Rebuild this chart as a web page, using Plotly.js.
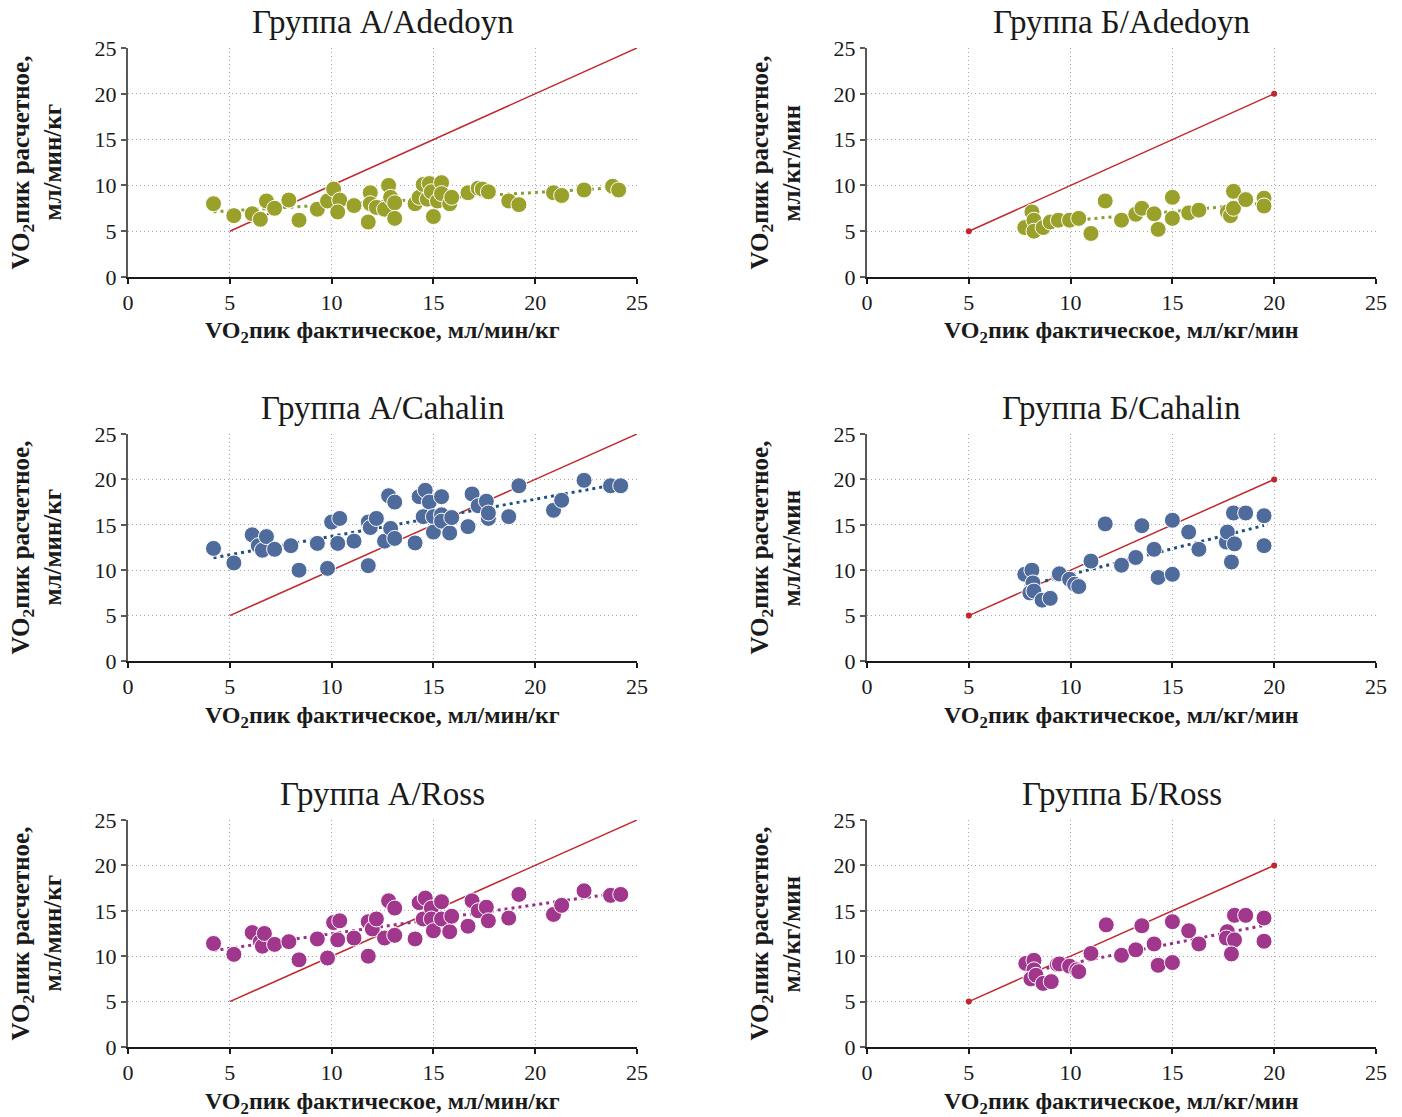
<!DOCTYPE html>
<html>
<head>
<meta charset="utf-8">
<script src="https://cdn.plot.ly/plotly-3.0.1.min.js"></script>
<style>html,body{margin:0;padding:0;background:#fff;}#chart{width:1402px;height:1117px;}</style>
</head>
<body>
<div id="chart"></div>
<script>
// ---------- DATA ----------
const tickVals = [0, 5, 10, 15, 20, 25];
const identA = [5, 25];
const identB = [5, 20];

// Группа А / Adedoyn
const aAdX = [4.2,5.2,6.1,6.5,6.8,7.2,7.9,8.4,9.3,9.8,10.1,10.4,10.3,11.1,11.8,11.9,11.9,12.2,12.6,12.8,12.9,13.1,13.1,14.1,14.3,14.5,14.8,14.7,14.9,15.2,15.0,15.4,15.4,15.8,15.9,16.7,17.2,17.4,17.7,18.7,19.2,20.9,21.3,22.4,23.8,24.1];
const aAdY = [8.0,6.7,6.9,6.3,8.3,7.5,8.4,6.2,7.4,8.3,9.6,8.4,7.1,7.8,6.0,9.2,8.0,7.6,7.4,10.0,8.7,8.1,6.4,8.0,8.7,10.1,10.2,8.5,9.3,8.3,6.6,10.3,9.1,8.0,8.7,9.2,9.7,9.6,9.3,8.3,7.9,9.2,8.9,9.5,9.9,9.5];

// Группа А / Cahalin
const aCaX = [4.2,5.2,6.1,6.4,6.6,6.8,7.2,8.0,8.4,9.3,9.8,10.0,10.4,10.3,11.1,11.8,11.8,11.9,12.2,12.6,12.8,13.1,12.9,13.1,14.1,14.3,14.6,14.8,14.5,15.0,15.0,15.4,15.4,15.4,15.8,15.9,16.7,16.9,17.2,17.6,17.7,17.7,18.7,19.2,20.9,21.3,22.4,23.7,24.2];
const aCaY = [12.4,10.8,13.9,12.7,12.2,13.7,12.3,12.7,10.0,12.95,10.2,15.3,15.7,12.95,13.2,10.5,15.3,14.7,15.7,13.2,18.2,17.5,14.6,13.5,13.0,18.1,18.8,17.5,15.9,15.9,14.2,18.1,16.1,15.4,14.1,15.8,14.8,18.4,17.1,17.6,15.7,16.3,15.9,19.3,16.6,17.7,19.9,19.3,19.3];

// Группа А / Ross
const aRoX = [4.2,5.2,6.1,6.5,6.6,6.7,7.2,7.9,8.4,9.3,9.8,10.1,10.4,10.3,11.1,11.8,11.8,12.0,12.2,12.6,13.1,12.8,13.1,14.1,14.3,14.6,14.5,14.9,14.9,15.0,15.4,15.4,15.8,15.9,16.7,16.9,17.2,17.6,17.7,18.7,19.2,20.9,21.3,22.4,23.7,24.2];
const aRoY = [11.4,10.2,12.6,11.6,11.1,12.5,11.3,11.6,9.6,11.9,9.8,13.7,13.9,11.8,12.0,10.0,13.8,13.0,14.1,12.0,12.3,16.1,15.3,11.9,15.9,16.4,14.1,15.3,14.1,12.8,16.0,14.1,12.7,14.4,13.3,16.1,15.0,15.4,13.9,14.2,16.8,14.6,15.6,17.2,16.7,16.8];

// Группа Б / Adedoyn
const bAdX = [7.75,8.1,8.2,8.2,8.65,9.0,9.4,9.95,10.4,11.0,11.7,12.5,13.2,13.5,14.1,14.3,15.0,15.0,15.8,16.3,17.7,17.85,18.0,18.0,18.6,19.5,19.5];
const bAdY = [5.4,7.1,6.2,5.0,5.4,6.0,6.2,6.2,6.4,4.75,8.3,6.2,6.85,7.5,6.9,5.2,8.7,6.4,7.0,7.3,7.1,6.7,7.5,9.35,8.45,8.6,7.75];

// Группа Б / Cahalin
const bCaX = [7.75,8.1,8.15,8.0,8.2,8.6,9.0,9.4,9.45,9.95,10.2,10.4,11.0,11.7,12.5,13.2,13.5,14.1,14.3,15.0,15.0,15.8,16.3,17.65,17.7,18.05,17.9,18.0,18.6,19.5,19.5];
const bCaY = [9.55,10.0,8.6,7.5,7.7,6.7,6.9,9.55,9.6,9.0,8.45,8.2,11.0,15.1,10.55,11.4,14.9,12.3,9.2,15.5,9.55,14.2,12.3,13.1,14.2,12.9,10.9,16.3,16.3,16.0,12.7];

// Группа Б / Ross
const bRoX = [7.8,8.2,8.2,8.05,8.3,8.65,9.05,9.35,9.45,9.95,10.3,10.4,11.0,11.75,12.5,13.2,13.5,14.1,14.3,15.0,15.0,15.8,16.3,17.7,17.65,18.05,17.9,18.05,18.6,19.5,19.5];
const bRoY = [9.2,9.55,8.5,7.5,7.9,7.0,7.2,9.1,9.15,8.9,8.5,8.3,10.3,13.45,10.1,10.7,13.35,11.35,9.0,13.8,9.3,12.8,11.35,12.7,12.0,11.8,10.25,14.5,14.5,14.2,11.65];

const titles = ['Группа А/Adedoyn','Группа Б/Adedoyn','Группа А/Cahalin','Группа Б/Cahalin','Группа А/Ross','Группа Б/Ross'];
const unitA = 'мл/мин/кг';
const unitB = 'мл/кг/мин';

// ---------- STYLE ----------
const W = 1402, H = 1117;
const FONT = '"Liberation Serif", "Times New Roman", serif';
const colXpx = [[128, 637], [867, 1376]];
const rowYpx = [[48, 277], [434, 661], [820, 1047]];
const titleYpx = [22, 408, 794];
const xTitleYpx = [332, 717, 1103];
const yTitleXpx = [[22, 52], [761, 791]];
const RED = '#c0282d';
const palette = {
  ad: {marker: '#9aa12b', trend: '#87a034'},
  ca: {marker: '#4e6b9c', trend: '#1d4f80'},
  ro: {marker: '#a0378c', trend: '#9a2f89'}
};

const panels = [
  {x: aAdX, y: aAdY, ident: identA, c: palette.ad, col: 0, row: 0, identMarkers: false},
  {x: bAdX, y: bAdY, ident: identB, c: palette.ad, col: 1, row: 0, identMarkers: true},
  {x: aCaX, y: aCaY, ident: identA, c: palette.ca, col: 0, row: 1, identMarkers: false},
  {x: bCaX, y: bCaY, ident: identB, c: palette.ca, col: 1, row: 1, identMarkers: true},
  {x: aRoX, y: aRoY, ident: identA, c: palette.ro, col: 0, row: 2, identMarkers: false},
  {x: bRoX, y: bRoY, ident: identB, c: palette.ro, col: 1, row: 2, identMarkers: true}
];

function linfit(xs, ys) {
  const n = xs.length;
  let sx = 0, sy = 0, sxx = 0, sxy = 0;
  for (let i = 0; i < n; i++) { sx += xs[i]; sy += ys[i]; sxx += xs[i]*xs[i]; sxy += xs[i]*ys[i]; }
  const b = (n*sxy - sx*sy) / (n*sxx - sx*sx);
  const a = (sy - b*sx) / n;
  const x0 = Math.min(...xs), x1 = Math.max(...xs);
  return {x: [x0, x1], y: [a + b*x0, a + b*x1]};
}
const px = v => v / W;
const py = v => 1 - v / H;

const traces = [];
const layout = {
  width: W, height: H,
  margin: {l: 0, r: 0, t: 0, b: 0},
  paper_bgcolor: '#ffffff', plot_bgcolor: '#ffffff',
  showlegend: false, hovermode: false,
  font: {family: FONT, color: '#1a1a1a', size: 22},
  annotations: []
};

panels.forEach((p, i) => {
  const k = i + 1;
  const xa = 'x' + (k === 1 ? '' : k), ya = 'y' + (k === 1 ? '' : k);
  const xKey = 'xaxis' + (k === 1 ? '' : k), yKey = 'yaxis' + (k === 1 ? '' : k);
  const cx = colXpx[p.col], ry = rowYpx[p.row];

  // identity line
  traces.push({
    x: p.ident, y: p.ident, xaxis: xa, yaxis: ya, type: 'scatter',
    mode: p.identMarkers ? 'lines+markers' : 'lines',
    line: {color: RED, width: 1.5},
    marker: {color: RED, size: 6},
    hoverinfo: 'skip'
  });
  // trend line
  const f = linfit(p.x, p.y);
  traces.push({
    x: f.x, y: f.y, xaxis: xa, yaxis: ya, type: 'scatter', mode: 'lines',
    line: {color: p.c.trend, width: 3, dash: '3px,4px'}, hoverinfo: 'skip'
  });
  // points
  traces.push({
    x: p.x, y: p.y, xaxis: xa, yaxis: ya, type: 'scatter', mode: 'markers',
    marker: {color: p.c.marker, size: 16, line: {color: '#ffffff', width: 1}}
  });

  layout[xKey] = {
    domain: [px(cx[0]), px(cx[1])], anchor: ya,
    range: [0, 25], tickvals: tickVals, ticktext: tickVals.map(String),
    showgrid: true, gridcolor: '#a8a8a8', gridwidth: 1, griddash: '1px,3px',
    zeroline: false, showline: true, linecolor: '#1a1a1a', linewidth: 1.5,
    ticks: 'outside', ticklen: 5, tickcolor: '#1a1a1a', tickwidth: 1.5,
    tickfont: {family: FONT, size: 22, color: '#1a1a1a'}, fixedrange: true
  };
  layout[yKey] = {
    domain: [py(ry[1]), py(ry[0])], anchor: xa,
    range: [0, 25], tickvals: tickVals, ticktext: tickVals.map(String),
    showgrid: true, gridcolor: '#a8a8a8', gridwidth: 1, griddash: '1px,3px',
    zeroline: false, showline: true, linecolor: '#595959', linewidth: 2,
    ticks: 'outside', ticklen: 5, tickcolor: '#595959', tickwidth: 1.5,
    tickfont: {family: FONT, size: 22, color: '#1a1a1a'}, fixedrange: true
  };

  const midX = (cx[0] + cx[1]) / 2, midY = (ry[0] + ry[1]) / 2;
  const unit = p.col === 0 ? unitA : unitB;
  // panel title
  layout.annotations.push({
    text: titles[i], xref: 'paper', yref: 'paper', x: px(midX), y: py(titleYpx[p.row]),
    xanchor: 'center', yanchor: 'middle', showarrow: false,
    font: {family: FONT, size: 33, color: '#1a1a1a'}
  });
  // x axis title
  layout.annotations.push({
    text: '<b>VO<sub>2</sub>пик фактическое, ' + unit + '</b>', xref: 'paper', yref: 'paper',
    x: px(midX), y: py(xTitleYpx[p.row]), xanchor: 'center', yanchor: 'middle', showarrow: false,
    font: {family: FONT, size: 24, color: '#1a1a1a'}
  });
  // y axis title (two lines)
  layout.annotations.push({
    text: '<b>VO<sub>2</sub>пик расчетное,</b>', xref: 'paper', yref: 'paper',
    x: px(yTitleXpx[p.col][0]), y: py(midY), xanchor: 'center', yanchor: 'middle', showarrow: false,
    textangle: -90, font: {family: FONT, size: 25, color: '#1a1a1a'}
  });
  layout.annotations.push({
    text: '<b>' + unit + '</b>', xref: 'paper', yref: 'paper',
    x: px(yTitleXpx[p.col][1]), y: py(midY), xanchor: 'center', yanchor: 'middle', showarrow: false,
    textangle: -90, font: {family: FONT, size: 25, color: '#1a1a1a'}
  });
});

Plotly.newPlot('chart', traces, layout, {displayModeBar: false, responsive: false});
</script>
</body>
</html>
